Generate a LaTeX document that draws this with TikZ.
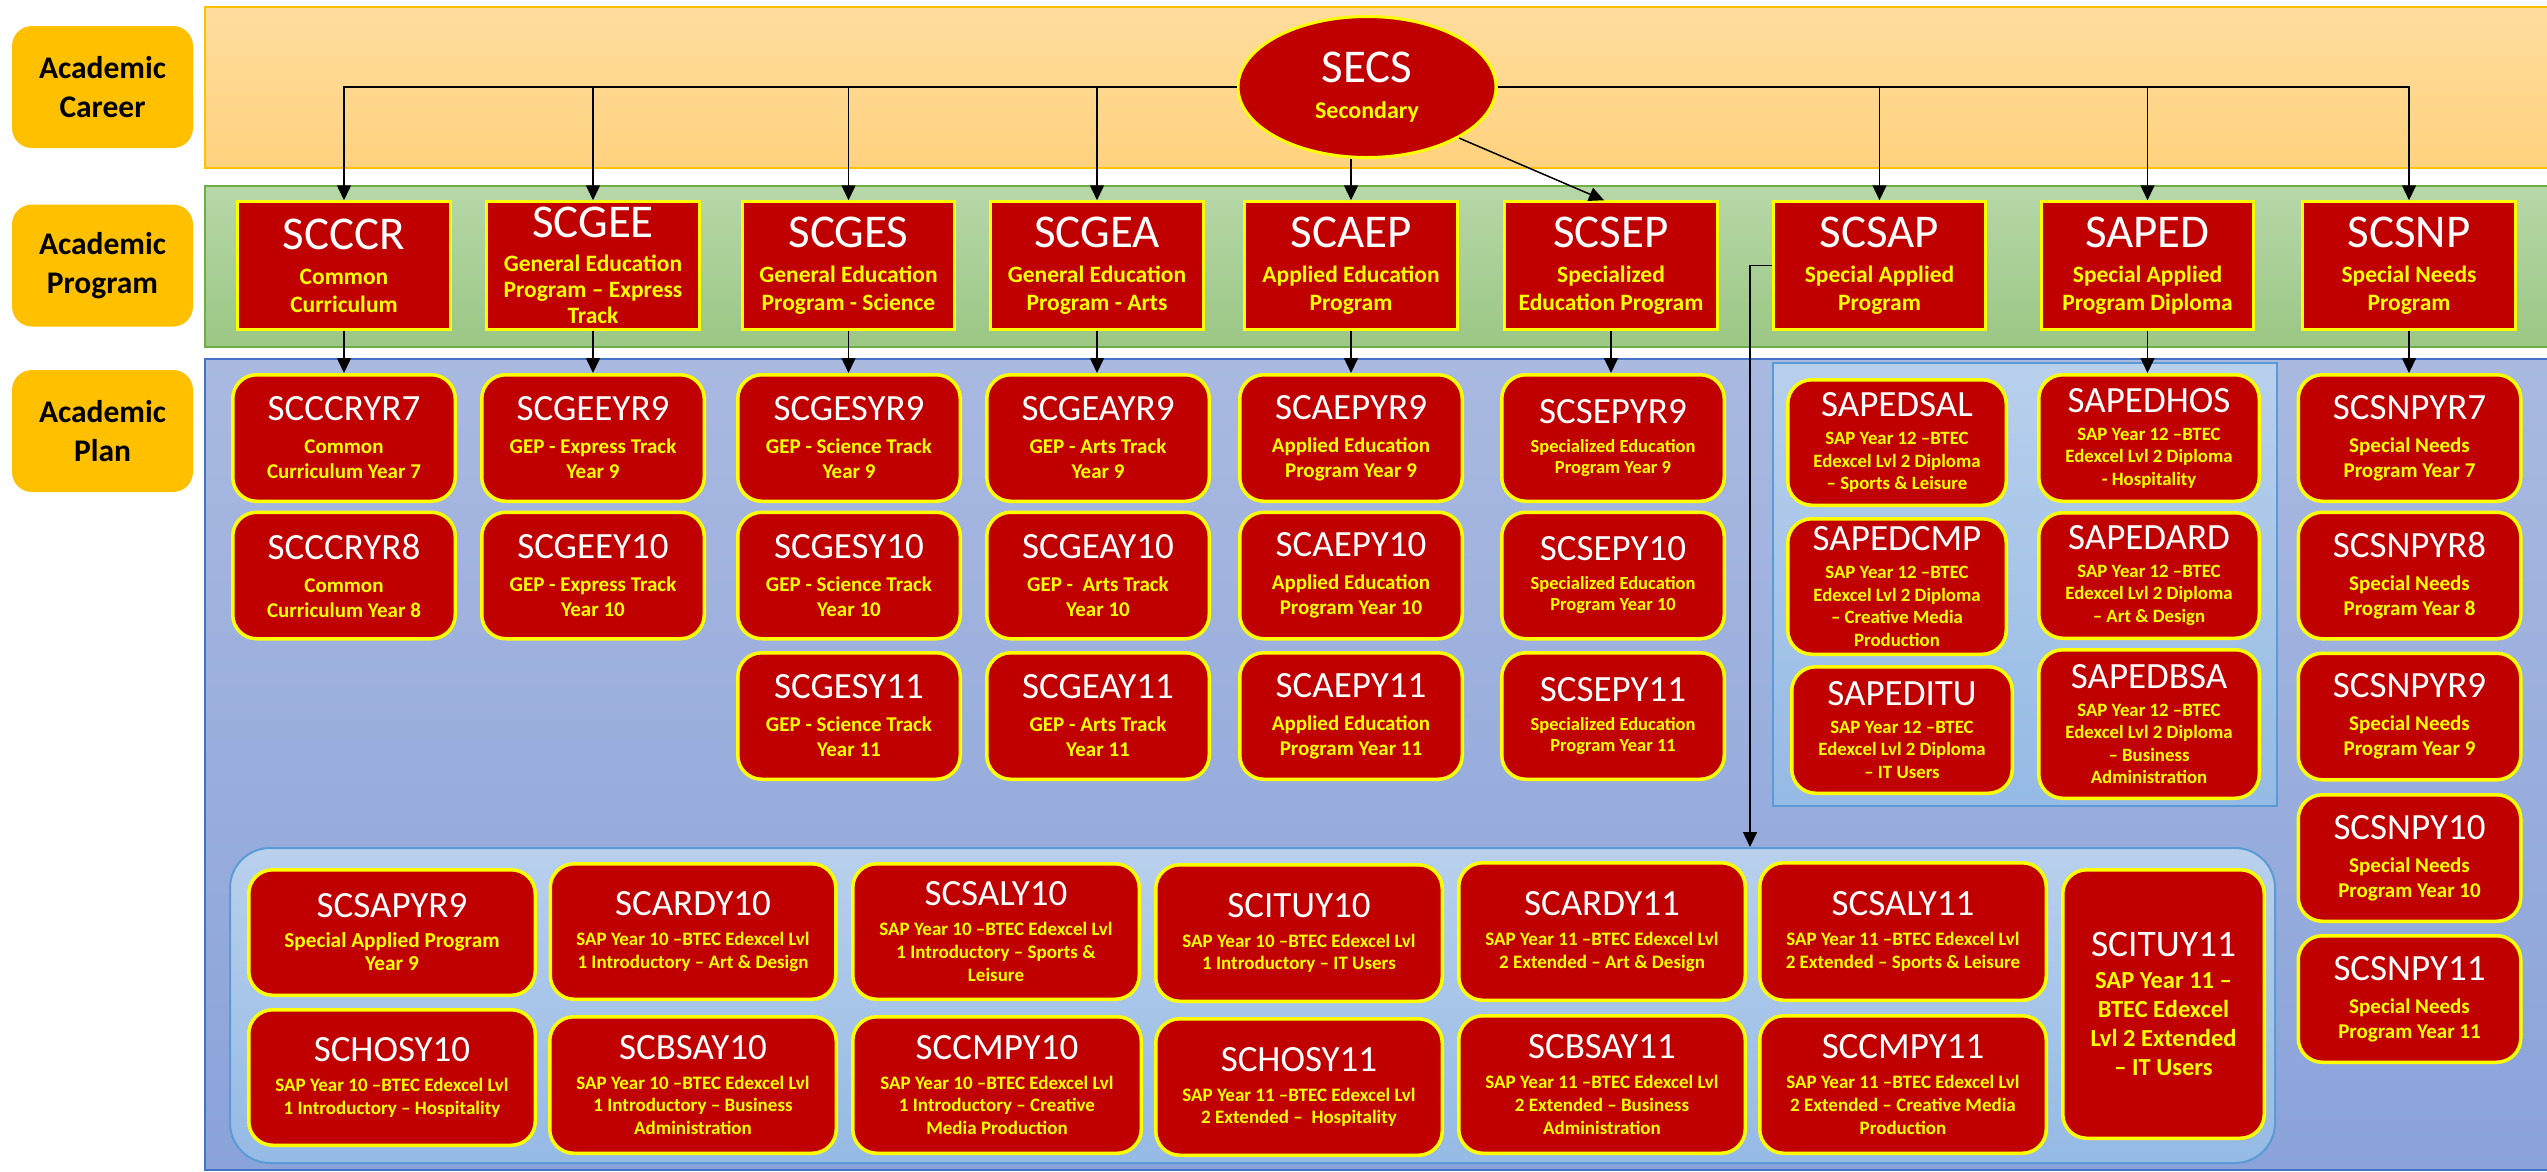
\documentclass[tikz,border=0pt]{standalone}
\usepackage{fontspec}
\setmainfont{Carlito}
\usetikzlibrary{shapes.geometric,arrows.meta}

\definecolor{boxred}{HTML}{C00000}
\definecolor{yl}{HTML}{FFFF00}
\definecolor{labgold}{HTML}{FFC000}
\definecolor{orgtop}{HTML}{FFDC9E}
\definecolor{orgbot}{HTML}{FFD27E}
\definecolor{orgline}{HTML}{FFC000}
\definecolor{grntop}{HTML}{B7D7A8}
\definecolor{grnbot}{HTML}{9BC784}
\definecolor{grnline}{HTML}{70AD47}
\definecolor{blutop}{HTML}{A9B9E0}
\definecolor{blubot}{HTML}{8AA3DA}
\definecolor{bluline}{HTML}{4472C4}
\definecolor{grptop}{HTML}{B8D0EC}
\definecolor{grpbot}{HTML}{95BAE5}
\definecolor{grpline}{HTML}{5B9BD5}

\newcommand\fsz[2]{\fontsize{#1}{#2}\selectfont}
% white code line on top of each box
\newcommand\hd[2]{{\color{white}\mdseries\fsz{#1}{#1}#2}}

\tikzset{
  lab/.style={fill=labgold, rounded corners=20pt, minimum width=181pt, minimum height=122pt,
    inner sep=0pt, align=center, font=\fsz{31.5}{39}\bfseries},
  redbox/.style={fill=boxred, draw=yl, inner sep=0pt, align=center, text=yl},
  sz/.style 2 args={minimum width={(#1-3.5)*1pt}, minimum height={(#2-3.5)*1pt}},
  prog/.style={redbox, line width=3pt, sz={216}{131}, font=\fsz{23.5}{28}\bfseries},
  plan/.style={redbox, line width=3.5pt, rounded corners=24pt, sz={226}{130}, font=\fsz{21}{25}\bfseries},
  plansm/.style={plan, font=\fsz{18.5}{21}\bfseries},
  dip/.style={redbox, line width=3.5pt, rounded corners=24pt, font=\fsz{18.8}{22.5}\bfseries},
  sap/.style={redbox, line width=3.5pt, rounded corners=24pt, font=\fsz{19}{22.7}\bfseries},
  grp/.style={draw=grpline, line width=2pt, top color=grptop, bottom color=grpbot, inner sep=0pt},
  arr/.style={draw=black, line width=1.5pt, -{Triangle[length=15pt,width=14pt]}},
}

\begin{document}
\begin{tikzpicture}[x=1pt, y=-1pt]
\useasboundingbox (0,0) rectangle (2547,1171);

% level bands
\path[draw=orgline, line width=1.5pt, top color=orgtop, bottom color=orgbot] (205,7) rectangle (2600,168);
\path[draw=grnline, line width=1.5pt, top color=grntop, bottom color=grnbot] (205,186) rectangle (2600,347);
\path[draw=bluline, line width=1.5pt, top color=blutop, bottom color=blubot] (205,359) rectangle (2600,1170);

% level labels
\node[lab] (lcar) at (102.5,87) {Academic\\Career};
\node[lab] (lprg) at (102.5,265.5) {Academic\\Program};
\node[lab] (lpln) at (102.5,431) {Academic\\Plan};

% group containers
\node[grp, minimum width=504pt, minimum height=443pt] (grpA) at (2025,584.5) {};
\node[grp, rounded corners=40pt, minimum width=2045pt, minimum height=315pt] (grpB) at (1252.5,1005.5) {};

% career
\node[ellipse, fill=boxred, draw=yl, line width=3pt, minimum width=258pt, minimum height=141pt,
  inner sep=0pt, align=center, text=yl, font=\fsz{24}{29}\bfseries] (SECS) at (1367,87)
  {\hd{47}{SECS}\\[7pt]Secondary};

% programs
\node[prog] (SCCCR) at (344,265.5) {\hd{47}{SCCCR}\\[7pt]Common\\Curriculum};
\node[prog, font=\fsz{23.5}{26}\bfseries] (SCGEE) at (593,265.5) {\hd{47}{SCGEE}\\[8pt]General Education\\Program -- Express\\Track};
\node[prog] (SCGES) at (848.5,265.5) {\hd{47}{SCGES}\\[7pt]General Education\\Program - Science};
\node[prog] (SCGEA) at (1097,265.5) {\hd{47}{SCGEA}\\[7pt]General Education\\Program - Arts};
\node[prog] (SCAEP) at (1351,265.5) {\hd{47}{SCAEP}\\[7pt]Applied Education\\Program};
\node[prog] (SCSEP) at (1611,265.5) {\hd{47}{SCSEP}\\[7pt]Specialized\\Education Program};
\node[prog] (SCSAP) at (1879.5,265.5) {\hd{47}{SCSAP}\\[7pt]Special Applied\\Program};
\node[prog] (SAPED) at (2147.5,265.5) {\hd{47}{SAPED}\\[7pt]Special Applied\\Program Diploma};
\node[prog] (SCSNP) at (2409,265.5) {\hd{47}{SCSNP}\\[7pt]Special Needs\\Program};

% plans by column
\node[plan] (SCCCRYR7) at (344,438) {\hd{37}{SCCCRYR7}\\[8pt]Common\\Curriculum Year 7};
\node[plan] (SCCCRYR8) at (344,575.5) {\hd{37}{SCCCRYR8}\\[8pt]Common\\Curriculum Year 8};
\node[plan] (SCGEEYR9) at (593,438) {\hd{37}{SCGEEYR9}\\[8pt]GEP - Express Track\\Year 9};
\node[plan] (SCGEEY10) at (593,575.5) {\hd{37}{SCGEEY10}\\[8pt]GEP - Express Track\\Year 10};
\node[plan] (SCGESYR9) at (849,438) {\hd{37}{SCGESYR9}\\[8pt]GEP - Science Track\\Year 9};
\node[plan] (SCGESY10) at (849,575.5) {\hd{37}{SCGESY10}\\[8pt]GEP - Science Track\\Year 10};
\node[plan] (SCGESY11) at (849,716) {\hd{37}{SCGESY11}\\[8pt]GEP - Science Track\\Year 11};
\node[plan] (SCGEAYR9) at (1098,438) {\hd{37}{SCGEAYR9}\\[8pt]GEP - Arts Track\\Year 9};
\node[plan] (SCGEAY10) at (1098,575.5) {\hd{37}{SCGEAY10}\\[8pt]GEP -\ \ Arts Track\\Year 10};
\node[plan] (SCGEAY11) at (1098,716) {\hd{37}{SCGEAY11}\\[8pt]GEP - Arts Track\\Year 11};
\node[plan] (SCAEPYR9) at (1351,438) {\hd{37}{SCAEPYR9}\\[8pt]Applied Education\\Program Year 9};
\node[plan] (SCAEPY10) at (1351,575.5) {\hd{37}{SCAEPY10}\\[8pt]Applied Education\\Program Year 10};
\node[plan] (SCAEPY11) at (1351,716) {\hd{37}{SCAEPY11}\\[8pt]Applied Education\\Program Year 11};
\node[plansm] (SCSEPYR9) at (1613,438) {\hd{37}{SCSEPYR9}\\[8pt]Specialized Education\\Program Year 9};
\node[plansm] (SCSEPY10) at (1613,575.5) {\hd{37}{SCSEPY10}\\[8pt]Specialized Education\\Program Year 10};
\node[plansm] (SCSEPY11) at (1613,716) {\hd{37}{SCSEPY11}\\[8pt]Specialized Education\\Program Year 11};
\node[plan] (SCSNPYR7) at (2409.5,438) {\hd{37}{SCSNPYR7}\\[8pt]Special Needs\\Program Year 7};
\node[plan] (SCSNPYR8) at (2409.5,575.5) {\hd{37}{SCSNPYR8}\\[8pt]Special Needs\\Program Year 8};
\node[plan] (SCSNPYR9) at (2409.5,716.5) {\hd{37}{SCSNPYR9}\\[8pt]Special Needs\\Program Year 9};
\node[plan] (SCSNPY10) at (2409.5,858) {\hd{37}{SCSNPY10}\\[8pt]Special Needs\\Program Year 10};
\node[plan] (SCSNPY11) at (2409.5,999) {\hd{37}{SCSNPY11}\\[8pt]Special Needs\\Program Year 11};

% diploma plans
\node[dip, sz={222}{129}] (SAPEDSAL) at (1897,442.5) {\hd{37}{SAPEDSAL}\\[5.5pt]SAP Year 12 --BTEC\\Edexcel Lvl 2 Diploma\\-- Sports \& Leisure};
\node[dip, sz={224}{130}] (SAPEDHOS) at (2149,438) {\hd{37}{SAPEDHOS}\\[5.5pt]SAP Year 12 --BTEC\\Edexcel Lvl 2 Diploma\\- Hospitality};
\node[dip, sz={222}{139}] (SAPEDCMP) at (1897,586.5) {\hd{37}{SAPEDCMP}\\[5.5pt]SAP Year 12 --BTEC\\Edexcel Lvl 2 Diploma\\-- Creative Media\\Production};
\node[dip, sz={224}{129}] (SAPEDARD) at (2149,575.5) {\hd{37}{SAPEDARD}\\[5.5pt]SAP Year 12 --BTEC\\Edexcel Lvl 2 Diploma\\-- Art \& Design};
\node[dip, sz={224}{130}] (SAPEDITU) at (1902,730) {\hd{37}{SAPEDITU}\\[5.5pt]SAP Year 12 --BTEC\\Edexcel Lvl 2 Diploma\\-- IT Users};
\node[dip, sz={224}{152}] (SAPEDBSA) at (2149,724) {\hd{37}{SAPEDBSA}\\[5.5pt]SAP Year 12 --BTEC\\Edexcel Lvl 2 Diploma\\-- Business\\Administration};

% special applied plans
\node[sap, sz={290}{129}, font=\fsz{21.3}{23}\bfseries] (SCSAPYR9) at (392,932.5) {\hd{37}{SCSAPYR9}\\[7pt]Special Applied Program\\Year 9};
\node[sap, sz={289}{139}] (SCARDY10) at (693,931.5) {\hd{37}{SCARDY10}\\[7pt]SAP Year 10 --BTEC Edexcel Lvl\\1 Introductory -- Art \& Design};
\node[sap, sz={290}{139}] (SCSALY10) at (996,931.5) {\hd{37}{SCSALY10}\\[7pt]SAP Year 10 --BTEC Edexcel Lvl\\1 Introductory -- Sports \&\\Leisure};
\node[sap, sz={290}{140}] (SCITUY10) at (1299,933) {\hd{37}{SCITUY10}\\[7pt]SAP Year 10 --BTEC Edexcel Lvl\\1 Introductory -- IT Users};
\node[sap, sz={290}{141}] (SCARDY11) at (1602,931.5) {\hd{37}{SCARDY11}\\[7pt]SAP Year 11 --BTEC Edexcel Lvl\\2 Extended -- Art \& Design};
\node[sap, sz={290}{141}] (SCSALY11) at (1903,931.5) {\hd{37}{SCSALY11}\\[7pt]SAP Year 11 --BTEC Edexcel Lvl\\2 Extended -- Sports \& Leisure};
\node[sap, sz={205}{272}, font=\fsz{24.5}{29}\bfseries] (SCITUY11) at (2163.5,1004) {\hd{37.4}{SCITUY11}\\[3pt]SAP Year 11 --\\BTEC Edexcel\\Lvl 2 Extended\\-- IT Users};
\node[sap, sz={290}{139}] (SCHOSY10) at (392,1077.5) {\hd{37}{SCHOSY10}\\[7pt]SAP Year 10 --BTEC Edexcel Lvl\\1 Introductory -- Hospitality};
\node[sap, sz={290}{140}] (SCBSAY10) at (693,1085) {\hd{37}{SCBSAY10}\\[7pt]SAP Year 10 --BTEC Edexcel Lvl\\1 Introductory -- Business\\Administration};
\node[sap, sz={292}{140}] (SCCMPY10) at (997,1085) {\hd{37}{SCCMPY10}\\[7pt]SAP Year 10 --BTEC Edexcel Lvl\\1 Introductory -- Creative\\Media Production};
\node[sap, sz={290}{140}] (SCHOSY11) at (1299,1087) {\hd{37}{SCHOSY11}\\[7pt]SAP Year 11 --BTEC Edexcel Lvl\\2 Extended --\ \ Hospitality};
\node[sap, sz={290}{141}] (SCBSAY11) at (1602,1084.5) {\hd{37}{SCBSAY11}\\[7pt]SAP Year 11 --BTEC Edexcel Lvl\\2 Extended -- Business\\Administration};
\node[sap, sz={290}{141}] (SCCMPY11) at (1903,1084.5) {\hd{37}{SCCMPY11}\\[7pt]SAP Year 11 --BTEC Edexcel Lvl\\2 Extended -- Creative Media\\Production};

% career to programs
\foreach \p in {SCCCR,SCGEE,SCGES,SCGEA}
  \draw[arr] (SECS.west) -| (\p.north);
\foreach \p in {SCSAP,SAPED,SCSNP}
  \draw[arr] (SECS.east) -| (\p.north);
\draw[arr] (SECS.south -| SCAEP.north) -- (SCAEP.north);
\draw[arr] (SECS.-29) -- ([xshift=-7pt]SCSEP.north);

% programs to plans
\foreach \a/\b in {SCCCR/SCCCRYR7, SCGEE/SCGEEYR9, SCGES/SCGESYR9, SCGEA/SCGEAYR9,
                   SCAEP/SCAEPYR9, SCSEP/SCSEPYR9, SAPED/SAPEDHOS, SCSNP/SCSNPYR7}
  \draw[arr] (\a.south) -- (\a.south |- \b.north);
\draw[arr] (SCSAP.west) -| ([xshift=497.5pt]grpB.north);
\end{tikzpicture}
\end{document}
